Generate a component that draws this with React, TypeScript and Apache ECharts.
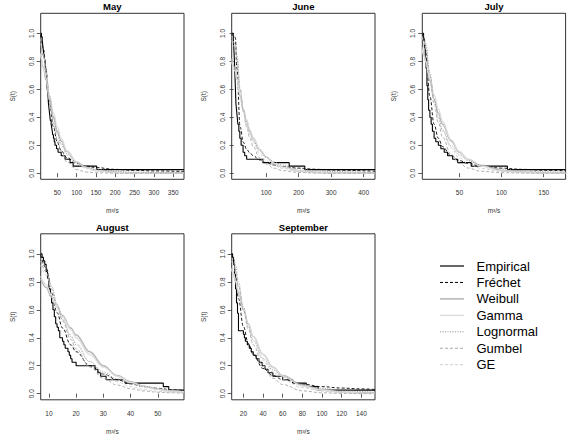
import { useEffect, useRef } from "react";
import * as echarts from "echarts";

const FONT = "'Liberation Sans', Arial, Helvetica, sans-serif";

// Shared y axis (survival probability)
const Y_MIN = -0.044;
const Y_MAX = 1.144;
const Y_TICKS = [0, 0.2, 0.4, 0.6, 0.8, 1.0];

const MODELS = ["Fréchet", "Weibull", "Gamma", "Lognormal", "Gumbel", "GE"];

// ---- May ----
const MAY_TICKS = [50, 100, 150, 200, 250, 300, 350];
const MAY_EMP_X = [7, 9, 11, 12, 13, 14, 15, 16.5, 18, 19, 20, 20.5, 21, 22, 22.5, 23, 24, 25, 26, 26.5, 27, 28, 29, 30, 31, 32, 34, 35.5, 37, 38, 40, 42, 44, 48, 52, 60, 70, 83, 91, 152, 378];
const MAY_EMP_S = [1, 0.975, 0.95, 0.925, 0.9, 0.875, 0.85, 0.825, 0.8, 0.775, 0.75, 0.725, 0.7, 0.675, 0.65, 0.625, 0.6, 0.575, 0.55, 0.525, 0.5, 0.475, 0.45, 0.425, 0.4, 0.375, 0.35, 0.325, 0.3, 0.275, 0.25, 0.225, 0.2, 0.175, 0.15, 0.125, 0.1, 0.075, 0.05, 0.025, 0.025];
const MAY_FIT_X = [7, 15, 20, 30, 40, 50, 60, 75, 100, 125, 150, 200, 250, 300, 378];
const MAY_FRECHET = [0.99, 0.88, 0.75, 0.5, 0.33, 0.22, 0.16, 0.11, 0.07, 0.05, 0.04, 0.027, 0.02, 0.016, 0.012];
const MAY_WEIBULL = [0.86, 0.75, 0.67, 0.52, 0.4, 0.3, 0.23, 0.155, 0.08, 0.04, 0.02, 0.005, 0.001, 0, 0];
const MAY_GAMMA = [0.85, 0.76, 0.69, 0.55, 0.43, 0.33, 0.25, 0.16, 0.08, 0.04, 0.018, 0.004, 0.001, 0, 0];
const MAY_LOGNORMAL = [0.97, 0.85, 0.75, 0.55, 0.4, 0.29, 0.21, 0.14, 0.075, 0.045, 0.028, 0.013, 0.007, 0.004, 0.002];
const MAY_GUMBEL = [0.93, 0.83, 0.73, 0.52, 0.36, 0.24, 0.16, 0.08, 0.025, 0.008, 0.003, 0.0005, 0, 0, 0];
const MAY_GE = [0.96, 0.84, 0.74, 0.54, 0.39, 0.28, 0.2, 0.13, 0.065, 0.033, 0.017, 0.004, 0.001, 0, 0];

// ---- June ----
const JUNE_TICKS = [100, 200, 300, 400];
const JUNE_EMP_X = [-6, -1, 1, 2.5, 4, 5.5, 7, 9, 11, 13, 16, 19, 23, 29, 34, 40, 90, 171, 219, 435];
const JUNE_EMP_S = [1, 0.95, 0.875, 0.8, 0.7, 0.6, 0.5, 0.45, 0.4, 0.35, 0.3, 0.25, 0.2, 0.15, 0.125, 0.1, 0.075, 0.05, 0.025, 0.025];
const JUNE_FIT_X = [-6, 5, 10, 20, 30, 40, 50, 60, 80, 100, 125, 150, 200, 250, 300, 435];
const JUNE_FRECHET = [1, 0.97, 0.75, 0.33, 0.22, 0.17, 0.145, 0.125, 0.095, 0.075, 0.058, 0.048, 0.036, 0.028, 0.022, 0.014];
const JUNE_WEIBULL = [0.82, 0.75, 0.68, 0.55, 0.45, 0.37, 0.3, 0.25, 0.17, 0.115, 0.07, 0.045, 0.018, 0.007, 0.003, 0];
const JUNE_GAMMA = [0.8, 0.73, 0.67, 0.56, 0.46, 0.38, 0.31, 0.255, 0.17, 0.115, 0.07, 0.042, 0.015, 0.005, 0.002, 0];
const JUNE_LOGNORMAL = [1, 0.98, 0.85, 0.6, 0.45, 0.35, 0.28, 0.23, 0.16, 0.115, 0.08, 0.058, 0.032, 0.019, 0.012, 0.005];
const JUNE_GUMBEL = [0.98, 0.92, 0.82, 0.6, 0.44, 0.33, 0.25, 0.19, 0.11, 0.065, 0.035, 0.018, 0.005, 0.001, 0, 0];
const JUNE_GE = [0.95, 0.9, 0.8, 0.6, 0.45, 0.35, 0.28, 0.22, 0.14, 0.09, 0.055, 0.033, 0.012, 0.004, 0.002, 0];

// ---- July ----
const JULY_TICKS = [50, 100, 150];
const JULY_EMP_X = [6, 7.5, 8.5, 9.5, 10.5, 11.5, 12.5, 13.5, 15, 16.5, 18, 20, 22, 25, 28, 32, 36, 42, 48, 64, 107, 176];
const JULY_EMP_S = [1, 0.95, 0.9, 0.825, 0.75, 0.625, 0.525, 0.45, 0.4, 0.35, 0.3, 0.25, 0.225, 0.2, 0.175, 0.15, 0.125, 0.1, 0.075, 0.05, 0.025, 0.025];
const JULY_FIT_X = [6, 8, 10, 15, 20, 25, 30, 40, 50, 60, 75, 100, 125, 150, 176];
const JULY_FRECHET = [1, 0.97, 0.88, 0.55, 0.35, 0.25, 0.19, 0.125, 0.09, 0.07, 0.052, 0.036, 0.027, 0.021, 0.017];
const JULY_WEIBULL = [0.9, 0.85, 0.8, 0.66, 0.53, 0.43, 0.35, 0.23, 0.15, 0.1, 0.055, 0.02, 0.007, 0.002, 0.001];
const JULY_GAMMA = [0.88, 0.84, 0.8, 0.68, 0.56, 0.46, 0.37, 0.24, 0.155, 0.1, 0.05, 0.016, 0.005, 0.001, 0];
const JULY_LOGNORMAL = [1, 0.98, 0.93, 0.72, 0.53, 0.4, 0.31, 0.195, 0.13, 0.09, 0.058, 0.03, 0.017, 0.01, 0.007];
const JULY_GUMBEL = [0.98, 0.95, 0.9, 0.7, 0.5, 0.36, 0.26, 0.135, 0.07, 0.037, 0.014, 0.003, 0.001, 0, 0];
const JULY_GE = [0.97, 0.94, 0.89, 0.7, 0.52, 0.39, 0.3, 0.18, 0.11, 0.07, 0.035, 0.012, 0.004, 0.001, 0];

// ---- August ----
const AUG_TICKS = [10, 20, 30, 40, 50];
const AUG_EMP_X = [7, 7.5, 8, 8.5, 9, 9.5, 10, 10.5, 11, 11.5, 12, 12.5, 13, 13.5, 14, 15, 15.5, 16, 17, 17.5, 18, 18.5, 20, 27, 28, 29, 31, 38, 52, 54, 59.6];
const AUG_EMP_S = [1, 0.975, 0.95, 0.925, 0.875, 0.825, 0.75, 0.7, 0.65, 0.6, 0.55, 0.5, 0.475, 0.45, 0.4, 0.375, 0.35, 0.325, 0.3, 0.275, 0.25, 0.225, 0.2, 0.175, 0.15, 0.125, 0.1, 0.075, 0.05, 0.025, 0.025];
const AUG_FIT_X = [7, 9, 11, 13, 15, 18, 20, 25, 30, 35, 40, 45, 50, 55, 59.6];
const AUG_FRECHET = [0.99, 0.9, 0.72, 0.58, 0.47, 0.35, 0.3, 0.2, 0.14, 0.1, 0.07, 0.05, 0.038, 0.028, 0.022];
const AUG_WEIBULL = [0.82, 0.76, 0.69, 0.62, 0.56, 0.47, 0.42, 0.3, 0.2, 0.13, 0.085, 0.053, 0.032, 0.019, 0.012];
const AUG_GAMMA = [0.84, 0.78, 0.7, 0.62, 0.55, 0.46, 0.4, 0.28, 0.19, 0.125, 0.08, 0.05, 0.031, 0.019, 0.012];
const AUG_LOGNORMAL = [0.97, 0.9, 0.77, 0.64, 0.53, 0.41, 0.35, 0.23, 0.155, 0.105, 0.073, 0.051, 0.036, 0.026, 0.02];
const AUG_GUMBEL = [0.95, 0.87, 0.75, 0.63, 0.52, 0.39, 0.32, 0.19, 0.11, 0.062, 0.035, 0.019, 0.01, 0.006, 0.003];
const AUG_GE = [0.92, 0.85, 0.75, 0.64, 0.54, 0.42, 0.36, 0.23, 0.14, 0.085, 0.05, 0.03, 0.017, 0.01, 0.006];

// ---- September ----
const SEP_TICKS = [20, 40, 60, 80, 100, 120, 140];
const SEP_EMP_X = [8.1, 9, 10, 11, 12, 13, 14, 15, 20, 21, 22, 24, 26, 28, 30, 33, 36, 39, 42, 45, 50, 60, 70, 84, 96, 153.9];
const SEP_EMP_S = [1, 0.975, 0.925, 0.85, 0.75, 0.65, 0.575, 0.45, 0.425, 0.4, 0.375, 0.35, 0.325, 0.3, 0.275, 0.25, 0.225, 0.2, 0.175, 0.15, 0.125, 0.1, 0.075, 0.05, 0.025, 0.025];
const SEP_FIT_X = [8.1, 10, 12, 15, 20, 25, 30, 40, 50, 60, 80, 100, 120, 140, 153.9];
const SEP_FRECHET = [1, 0.96, 0.85, 0.68, 0.48, 0.36, 0.28, 0.18, 0.13, 0.1, 0.068, 0.05, 0.04, 0.034, 0.03];
const SEP_WEIBULL = [0.9, 0.86, 0.8, 0.72, 0.6, 0.5, 0.41, 0.28, 0.19, 0.13, 0.06, 0.028, 0.013, 0.006, 0.004];
const SEP_GAMMA = [0.89, 0.86, 0.81, 0.73, 0.61, 0.5, 0.41, 0.28, 0.185, 0.125, 0.055, 0.024, 0.01, 0.004, 0.002];
const SEP_LOGNORMAL = [0.99, 0.97, 0.92, 0.8, 0.62, 0.48, 0.38, 0.25, 0.17, 0.12, 0.066, 0.038, 0.023, 0.015, 0.011];
const SEP_GUMBEL = [0.97, 0.94, 0.88, 0.77, 0.6, 0.46, 0.35, 0.2, 0.11, 0.065, 0.02, 0.006, 0.002, 0, 0];
const SEP_GE = [0.95, 0.92, 0.87, 0.77, 0.61, 0.48, 0.38, 0.24, 0.155, 0.1, 0.043, 0.018, 0.008, 0.003, 0.002];

type Panel = {
  title: string;
  col: number;
  row: number;
  xMin: number;
  xMax: number;
  ticks: number[];
  empX: number[];
  empS: number[];
  fitX: number[];
  fits: number[][];
};

const PANELS: Panel[] = [
  { title: "May", col: 0, row: 0, xMin: 7, xMax: 378, ticks: MAY_TICKS, empX: MAY_EMP_X, empS: MAY_EMP_S, fitX: MAY_FIT_X, fits: [MAY_FRECHET, MAY_WEIBULL, MAY_GAMMA, MAY_LOGNORMAL, MAY_GUMBEL, MAY_GE] },
  { title: "June", col: 1, row: 0, xMin: -6, xMax: 435, ticks: JUNE_TICKS, empX: JUNE_EMP_X, empS: JUNE_EMP_S, fitX: JUNE_FIT_X, fits: [JUNE_FRECHET, JUNE_WEIBULL, JUNE_GAMMA, JUNE_LOGNORMAL, JUNE_GUMBEL, JUNE_GE] },
  { title: "July", col: 2, row: 0, xMin: 6, xMax: 176, ticks: JULY_TICKS, empX: JULY_EMP_X, empS: JULY_EMP_S, fitX: JULY_FIT_X, fits: [JULY_FRECHET, JULY_WEIBULL, JULY_GAMMA, JULY_LOGNORMAL, JULY_GUMBEL, JULY_GE] },
  { title: "August", col: 0, row: 1, xMin: 7, xMax: 59.6, ticks: AUG_TICKS, empX: AUG_EMP_X, empS: AUG_EMP_S, fitX: AUG_FIT_X, fits: [AUG_FRECHET, AUG_WEIBULL, AUG_GAMMA, AUG_LOGNORMAL, AUG_GUMBEL, AUG_GE] },
  { title: "September", col: 1, row: 1, xMin: 8.1, xMax: 153.9, ticks: SEP_TICKS, empX: SEP_EMP_X, empS: SEP_EMP_S, fitX: SEP_FIT_X, fits: [SEP_FRECHET, SEP_WEIBULL, SEP_GAMMA, SEP_LOGNORMAL, SEP_GUMBEL, SEP_GE] },
];

// Line look per curve (R: black / greys with lty variations)
const STYLES: Record<string, { color: string; width: number; type: "solid" | number[] }> = {
  Empirical: { color: "#000000", width: 1.1, type: "solid" },
  "Fréchet": { color: "#000000", width: 0.9, type: [3, 2] },
  Weibull: { color: "#b4b4b4", width: 1.4, type: "solid" },
  Gamma: { color: "#dddddd", width: 1.4, type: "solid" },
  Lognormal: { color: "#8c8c8c", width: 0.9, type: [1, 1.5] },
  Gumbel: { color: "#a6a6a6", width: 0.9, type: [3, 2] },
  GE: { color: "#cfcfcf", width: 0.9, type: [3, 2] },
};
const LEGEND_NAMES = ["Empirical", ...MODELS];

const COL_LEFT = [40.7, 231.7, 422.3];
const ROW_TOP = [13.3, 233.8];
const BOX_W = 143.3;
const BOX_H = 166;
const INK = "#333333";

function zip(xs: number[], ys: number[]): [number, number][] {
  return xs.map((x, i) => [x, ys[i]]);
}

export default function App() {
  const ref = useRef<HTMLDivElement | null>(null);

  useEffect(() => {
    if (!ref.current) return;
    const chart = echarts.init(ref.current, undefined, { renderer: "svg" });

    const grid = PANELS.map((p) => ({
      left: COL_LEFT[p.col],
      top: ROW_TOP[p.row],
      width: BOX_W,
      height: BOX_H,
      show: true,
      borderColor: INK,
      borderWidth: 1,
      backgroundColor: "transparent",
    }));

    const xAxis = PANELS.map((p, i) => ({
      type: "value",
      gridIndex: i,
      min: p.xMin,
      max: p.xMax,
      axisLine: { show: false },
      splitLine: { show: false },
      axisTick: { show: true, length: 4, customValues: p.ticks, lineStyle: { color: INK, width: 0.8 } },
      axisLabel: { customValues: p.ticks, fontSize: 6.5, color: INK, margin: 10, fontFamily: FONT },
      name: "m³/s",
      nameLocation: "middle",
      nameGap: 28,
      nameTextStyle: { fontSize: 6.5, color: INK, fontFamily: FONT },
    }));

    const yAxis = PANELS.map((_, i) => ({
      type: "value",
      gridIndex: i,
      min: Y_MIN,
      max: Y_MAX,
      axisLine: { show: false },
      splitLine: { show: false },
      axisTick: { show: true, length: 4, customValues: Y_TICKS, lineStyle: { color: INK, width: 0.8 } },
      axisLabel: {
        customValues: Y_TICKS,
        rotate: 90,
        fontSize: 6.5,
        color: INK,
        margin: 6,
        fontFamily: FONT,
        formatter: (v: number) => v.toFixed(1),
      },
      name: "S(t)",
      nameLocation: "middle",
      nameGap: 25,
      nameRotate: 90,
      nameTextStyle: { fontSize: 6.5, color: INK, fontFamily: FONT },
    }));

    const series: any[] = [];
    PANELS.forEach((p, i) => {
      const emp = STYLES.Empirical;
      series.push({
        type: "line",
        name: "Empirical",
        xAxisIndex: i,
        yAxisIndex: i,
        data: zip(p.empX, p.empS),
        step: "end",
        symbol: "none",
        silent: true,
        lineStyle: { color: emp.color, width: emp.width, type: emp.type },
      });
      p.fits.forEach((f, k) => {
        const s = STYLES[MODELS[k]];
        series.push({
          type: "line",
          name: MODELS[k],
          xAxisIndex: i,
          yAxisIndex: i,
          data: zip(p.fitX, f),
          smooth: 0.4,
          smoothMonotone: "x",
          symbol: "none",
          silent: true,
          lineStyle: { color: s.color, width: s.width, type: s.type },
        });
      });
    });

    const titles = PANELS.map((p) => ({
      type: "text",
      x: COL_LEFT[p.col] + BOX_W / 2,
      y: ROW_TOP[p.row] - 6.6,
      style: {
        text: p.title,
        font: `bold 9.5px ${FONT}`,
        fill: "#000",
        textAlign: "center",
        textVerticalAlign: "middle",
        verticalAlign: "middle",
      },
    }));

    const legend: any[] = [];
    LEGEND_NAMES.forEach((name, k) => {
      const s = STYLES[name];
      const y = 266 + k * 16.45;
      legend.push({
        type: "line",
        shape: { x1: 440, y1: y, x2: 464, y2: y },
        style: {
          stroke: s.color,
          lineWidth: s.width + 0.1,
          lineDash: s.type === "solid" ? null : s.type,
        },
      });
      legend.push({
        type: "text",
        x: 476.5,
        y,
        style: {
          text: name,
          font: `13px ${FONT}`,
          fill: "#000",
          textAlign: "left",
          textVerticalAlign: "middle",
          verticalAlign: "middle",
        },
      });
    });

    chart.setOption({
      animation: false,
      backgroundColor: "#ffffff",
      textStyle: { fontFamily: FONT },
      grid,
      xAxis,
      yAxis,
      series,
      graphic: [...titles, ...legend],
    });

    return () => chart.dispose();
  }, []);

  return (
    <div
      ref={ref}
      style={{ position: "fixed", left: 0, top: 0, width: 572, height: 441, background: "#fff" }}
    />
  );
}
